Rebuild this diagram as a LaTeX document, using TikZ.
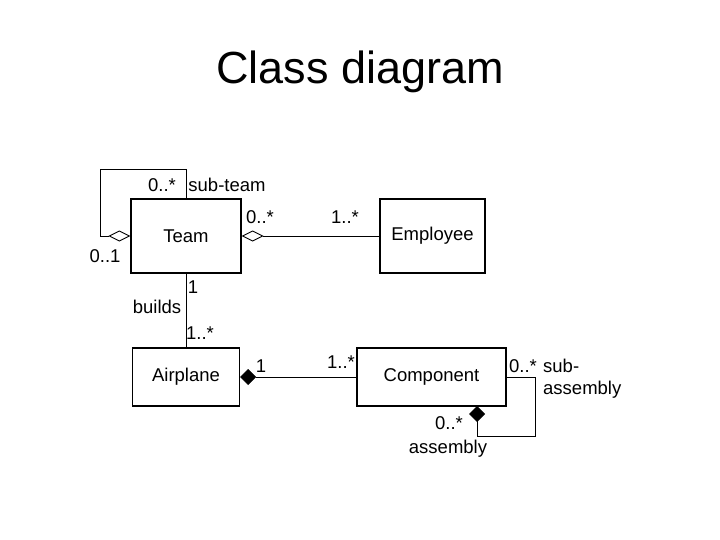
\documentclass[tikz,border=0pt]{standalone}
\usepackage{fontspec}
\setmainfont{Liberation Sans}
\usetikzlibrary{arrows.meta}
\begin{document}
\begin{tikzpicture}[x=1pt,y=-1pt,
  cls/.style={draw,line width=1.4pt,inner sep=0pt,font=\fontsize{18.5}{21}\selectfont},
  lbl/.style={inner sep=0pt,font=\fontsize{18.5}{21}\selectfont},
  conn/.style={line width=0.9pt},
  odia/.style={{Diamond[open,length=22pt,width=11pt,line width=0.9pt]}-},
  fdia/.style={{Diamond[length=16pt,width=16pt]}-},
  fdiaend/.style={-{Diamond[length=16pt,width=16pt]}}]
\useasboundingbox (0,0) rectangle (720,540);
\node[inner sep=0pt,font=\fontsize{45}{50}\selectfont] (title) at (360,72) {Class diagram};
\node[cls,minimum width=110pt,minimum height=74pt] (team) at (186,236) {Team};
\node[cls,minimum width=105pt,minimum height=74pt] (emp) at (432.5,236) {Employee};
\node[cls,minimum width=107pt,minimum height=58pt] (air) at (186,377) {Airplane};
\node[cls,minimum width=149pt,minimum height=58pt] (comp) at (431.5,377) {Component};
\coordinate (tloop) at (100,169);
\coordinate (cloop) at (535,436);
\coordinate (cbot) at (477,406);
\draw[conn,odia] (team.west) -| (tloop) -| (team.north);
\draw[conn,odia] (team.east) -- (emp.west);
\draw[conn] (team.south) -- (air.north);
\draw[conn,fdia] (air.east) -- (comp.west);
\draw[conn,fdiaend] (comp.east) -| (cloop) -| (cbot);
\node[lbl] (l1) at (162,185) {0..*};
\node[lbl] (l2) at (227,185) {sub-team};
\node[lbl] (l3) at (105,256) {0..1};
\node[lbl] (l4) at (260,217) {0..*};
\node[lbl] (l5) at (345,217) {1..*};
\node[lbl] (l6) at (193,287) {1};
\node[lbl] (l7) at (157,307) {builds};
\node[lbl] (l8) at (200,333) {1..*};
\node[lbl] (l9) at (261,366) {1};
\node[lbl] (l10) at (341,362) {1..*};
\node[lbl] (l11) at (523,366) {0..*};
\node[lbl,anchor=west] (l12) at (543,366) {sub-};
\node[lbl,anchor=west] (l13) at (543,390) {assembly};
\node[lbl] (l14) at (449,423) {0..*};
\node[lbl] (l15) at (448,449) {assembly};
\end{tikzpicture}
\end{document}
